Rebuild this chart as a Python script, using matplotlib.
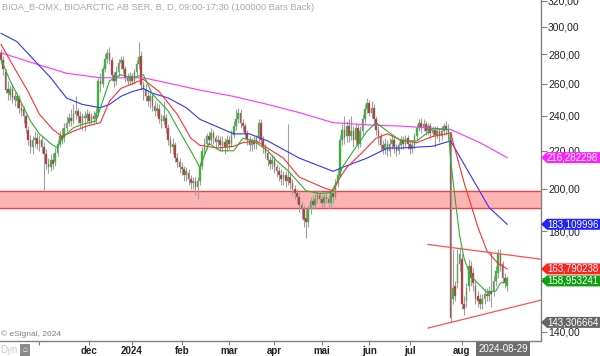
import numpy as np
import pandas as pd
import matplotlib
matplotlib.use('Agg')
import matplotlib.pyplot as plt
from matplotlib.patches import Polygon
from matplotlib.ticker import NullLocator, FixedLocator

plt.rcParams['font.family'] = ['Liberation Sans', 'DejaVu Sans']

# ---- data ----
title = 'BIOA_B-OMX, BIOARCTIC AB SER. B, D, 09:00-17:30 (100000 Bars Back)'
holidays = ['2023-12-25', '2023-12-26', '2024-01-01', '2024-03-29', '2024-04-01',
            '2024-05-01', '2024-05-09', '2024-06-06', '2024-06-21']

opens = [281, 276, 268, 257, 253, 257, 252, 249, 251, 245, 244, 240, 232, 226, 222, 226, 227, 224, 226, 222,
         218, 213, 211, 215, 214, 219, 224, 228, 227, 233, 236, 239, 237, 241, 243, 240, 236, 240, 239, 241,
         237, 240, 238, 242, 262, 260, 270, 277, 281, 276, 266, 262, 268, 274, 276, 270, 264, 262, 265, 262,
         268, 273, 279, 259, 257, 252, 249, 252, 246, 243, 244, 238, 237, 239, 233, 226, 222, 223, 216, 214,
         211, 210, 207, 208, 205, 203, 204, 201, 204, 212, 220, 224, 228, 226, 230, 227, 225, 226, 223, 225,
         222, 226, 224, 229, 234, 238, 242, 236, 234, 230, 226, 223, 225, 224, 227, 236, 226, 222, 219, 215,
         213, 215, 211, 209, 207, 205, 207, 204, 206, 203, 200, 198, 196, 192, 190, 186, 184, 190, 194, 192,
         195, 197, 195, 193, 196, 195, 193, 198, 196, 203, 207, 226, 232, 228, 234, 228, 231, 226, 233, 224,
         231, 238, 244, 248, 242, 245, 238, 232, 228, 223, 221, 224, 220, 224, 226, 222, 220, 223, 226, 224,
         227, 224, 221, 223, 228, 233, 236, 233, 235, 231, 234, 230, 232, 229, 231, 228, 231, 234, 232, 230,
         152, 157, 158, 166, 168, 150, 151, 157, 165, 162, 157, 153, 152, 150, 152, 154, 153, 155, 155, 159,
         162, 170, 166, 160, 157]
highs = [284, 279, 270, 262, 259, 260, 255, 254, 253, 248, 246, 241, 234, 229, 228, 231, 230, 229, 228, 225,
         221, 216, 218, 219, 222, 226, 231, 233, 236, 240, 242, 244, 247, 252, 245, 243, 242, 243, 244, 243,
         242, 243, 245, 264, 267, 272, 280, 284, 285, 278, 268, 272, 277, 279, 279, 272, 267, 268, 267, 270,
         276, 289, 282, 262, 260, 256, 255, 254, 249, 248, 247, 241, 249, 241, 235, 228, 227, 225, 219, 216,
         214, 212, 211, 210, 207, 206, 206, 206, 214, 222, 227, 230, 231, 233, 232, 229, 229, 228, 228, 227,
         229, 228, 232, 237, 244, 245, 244, 238, 236, 232, 228, 227, 228, 229, 238, 238, 228, 224, 221, 217,
         218, 217, 213, 211, 210, 209, 209, 235, 208, 205, 202, 200, 198, 194, 192, 190, 192, 196, 197, 198,
         199, 199, 197, 198, 198, 197, 200, 200, 205, 210, 229, 235, 240, 237, 238, 240, 234, 236, 235, 234,
         241, 247, 251, 250, 249, 247, 240, 234, 230, 226, 227, 226, 227, 229, 228, 224, 225, 228, 228, 229,
         229, 226, 226, 230, 235, 238, 239, 238, 237, 236, 236, 234, 234, 234, 233, 234, 236, 237, 235, 231,
         172, 159, 172, 173, 170, 153, 158, 168, 167, 164, 159, 155, 154, 154, 156, 156, 157, 171, 161, 165,
         172, 172, 167, 162, 161]
lows = [273, 266, 254, 250, 250, 248, 246, 245, 242, 240, 236, 230, 223, 219, 218, 222, 221, 220, 219, 199,
        210, 208, 209, 210, 212, 217, 222, 224, 225, 231, 234, 234, 235, 238, 236, 233, 232, 231, 236, 235,
        235, 236, 236, 240, 255, 258, 268, 274, 273, 262, 258, 259, 265, 270, 267, 261, 259, 259, 259, 260,
        266, 270, 256, 250, 249, 246, 245, 243, 240, 240, 236, 233, 235, 230, 223, 219, 218, 214, 211, 208,
        207, 204, 204, 202, 200, 200, 197, 195, 202, 210, 217, 221, 223, 224, 224, 221, 222, 220, 220, 218,
        220, 221, 222, 227, 232, 236, 233, 231, 227, 223, 220, 220, 221, 221, 225, 224, 219, 216, 212, 210,
        210, 208, 206, 204, 202, 202, 201, 202, 200, 197, 195, 193, 189, 186, 182, 177, 182, 188, 190, 190,
        193, 193, 191, 191, 193, 190, 191, 193, 195, 201, 206, 223, 224, 225, 225, 226, 222, 223, 221, 222,
        229, 236, 242, 240, 239, 235, 229, 224, 220, 218, 218, 217, 217, 221, 219, 217, 218, 221, 221, 222,
        221, 218, 219, 221, 226, 231, 230, 231, 229, 229, 227, 228, 222, 227, 225, 226, 229, 229, 226, 143.3,
        150, 151, 156, 163, 148, 146, 149, 155, 157, 155, 150, 149, 148, 148, 150, 151, 151, 149, 153, 157,
        160, 163, 158, 156, 155]
closes = [276, 270, 256, 254, 257, 251, 250, 252, 245, 243, 240, 233, 226, 222, 226, 227, 224, 226, 222, 218,
          213, 211, 215, 213, 219, 224, 228, 226, 233, 236, 239, 237, 241, 243, 240, 236, 240, 239, 241, 237,
          240, 238, 242, 262, 260, 270, 277, 281, 276, 266, 262, 268, 274, 276, 270, 264, 262, 265, 262, 268,
          273, 278, 259, 257, 252, 249, 252, 246, 243, 245, 238, 237, 240, 233, 226, 222, 224, 216, 214, 211,
          210, 207, 209, 205, 203, 204, 201, 204, 212, 220, 224, 228, 226, 230, 227, 225, 226, 223, 225, 222,
          226, 224, 229, 234, 238, 242, 236, 234, 230, 226, 223, 225, 224, 227, 236, 226, 222, 219, 215, 213,
          215, 211, 209, 207, 205, 207, 204, 206, 203, 200, 198, 196, 192, 190, 185, 184, 190, 194, 192, 195,
          197, 195, 193, 196, 195, 193, 198, 196, 203, 207, 226, 232, 227, 234, 228, 231, 226, 233, 224, 231,
          238, 244, 248, 242, 245, 238, 232, 228, 223, 221, 224, 220, 224, 226, 222, 220, 223, 226, 224, 227,
          224, 221, 223, 228, 233, 236, 233, 235, 231, 234, 230, 232, 229, 231, 228, 231, 234, 232, 230, 145,
          156, 153, 166, 170, 150, 148, 156, 165, 160, 158, 152, 151, 150, 152, 154, 153, 155, 154, 159, 163,
          170, 165, 160, 158, 160]

# moving averages, sampled at bar numbers
ma_fast_idx = [0, 4, 8, 13, 17, 22, 25, 27, 32, 36, 42, 45, 48, 53, 58, 63, 67, 74, 79, 84, 88, 92, 97, 103,
               107, 112, 118, 122, 127, 131, 135, 141, 146, 149, 151, 156, 162, 166, 171, 177, 184, 191, 198,
               199, 201, 203, 205, 207, 209, 211, 215, 219, 221, 224]
ma_fast = [276.6, 262, 251, 237, 229.5, 224, 221.6, 227, 233, 235, 237, 249, 262, 266, 264, 266, 253.5, 243,
           231, 220, 211, 224, 220, 220, 227, 225.5, 220, 214.6, 209.3, 204.2, 199.1, 197.7, 198.2, 204.2, 211,
           220, 231, 236, 231, 225.5, 225.5, 232.4, 232, 215, 195, 178, 168, 163, 160, 158.1, 154.5, 155, 158,
           158.95]
ma_mid_idx = [0, 5, 12, 17, 23, 27, 32, 38, 44, 48, 53, 58, 63, 70, 78, 84, 88, 96, 103, 107, 113, 118, 125,
              132, 138, 143, 147, 150, 153, 159, 166, 171, 177, 184, 191, 199, 205, 211, 215, 220, 224]
ma_mid = [287, 273, 255, 241, 232, 228, 231, 234, 236, 249, 257, 260, 263, 255, 241, 227, 223, 221.5, 222.5,
          224.5, 225.5, 221.5, 216, 206, 203, 200.5, 199, 205.7, 211, 218, 227, 229.5, 226, 224.5, 228, 230,
          203, 182, 171.5, 166, 163.79]
ma_50_idx = [0, 7, 14, 22, 29, 36, 44, 48, 53, 58, 63, 67, 74, 82, 88, 103, 110, 118, 132, 147, 151, 162,
             171, 177, 191, 199, 216, 224]
ma_50 = [295, 289, 277, 264, 251, 247, 245, 247, 252, 255, 257, 254, 251, 245, 238, 229.5, 229.5, 225.5, 216,
         209, 211, 216, 221.5, 221.5, 222.5, 225.5, 191, 183.11]
ma_200_idx = [0, 14, 29, 44, 63, 74, 88, 103, 118, 132, 147, 165, 177, 199, 212, 224]
ma_200 = [281, 274, 267, 264, 264, 260.5, 256, 252, 247, 242, 236, 234.5, 234, 232, 224.5, 216.28]

band_low, band_high = 190.6, 198.9
trend_upper = ([189, 239], [174.1, 167.8])
trend_lower = ([189, 239], [141.3, 151.5])

last_values = [(216.282298, '#ff22ff'), (183.109996, '#2222ff'), (163.790238, '#ff2222'),
               (158.953241, '#0f9f0f'), (143.306664, '#666666')]
month_names = {11: '', 12: 'dec', 1: '2024', 2: 'feb', 3: 'mar', 4: 'apr', 5: 'mai', 6: 'jun', 7: 'jul', 8: 'aug'}

# ---- figure ----
W, H = 600, 356
fig = plt.figure(figsize=(W / 100, H / 100), dpi=100)
fig.patch.set_facecolor('white')
ax = fig.add_axes([0, 15 / H, 541 / W, 341 / H])

n = len(closes)
dates = pd.bdate_range('2023-10-09', periods=n, freq='C', holidays=holidays)
x = np.arange(n)
o = np.array(opens, float)
c = np.array(closes, float)
hi = np.array(highs, float)
lo = np.array(lows, float)

ax.axhspan(band_low, band_high, facecolor='#ffb4b4', edgecolor='none', zorder=0)
ax.axhline(band_low, color='#ff3b3b', lw=1.0, zorder=0.5)
ax.axhline(band_high, color='#ff3b3b', lw=1.0, zorder=0.5)

# candles
ax.vlines(x, lo, hi, color='#a0a0a0', lw=0.8, zorder=2)
up = c >= o
body_col = np.where(up, '#22c022', '#c02a2a')
bottom = np.minimum(o, c)
height = np.maximum(np.abs(c - o), 0.4)
ax.bar(x, height, bottom=bottom, width=0.72, color=body_col, edgecolor='#909090', linewidth=0.3, zorder=3)

ax.plot(ma_200_idx, ma_200, color='#ff33ff', lw=0.8, zorder=4)
ax.plot(ma_50_idx, ma_50, color='#3333ff', lw=0.8, zorder=4)
ax.plot(ma_mid_idx, ma_mid, color='#ff3030', lw=0.8, zorder=4)
ax.plot(ma_fast_idx, ma_fast, color='#2cb02c', lw=0.8, zorder=4)

ax.plot(trend_upper[0], trend_upper[1], color='#ff5050', lw=0.9, zorder=4)
ax.plot(trend_lower[0], trend_lower[1], color='#ff5050', lw=0.9, zorder=4)

ax.set_yscale('log')
ax.set_ylim(136.8, 320.6)
ax.set_xlim(-0.45, 239)
ax.yaxis.tick_right()
yt = list(range(140, 340, 20))
ax.yaxis.set_major_locator(FixedLocator(yt))
ax.yaxis.set_minor_locator(NullLocator())
# 160 is fully hidden behind the price tags in the picture
ax.set_yticklabels(['' if v == 160 else '%d,00' % v for v in yt])
ax.tick_params(axis='y', direction='out', length=4, width=0.8, color='#808080',
               labelsize=7.5, pad=1, labelcolor='#222222')

# month ticks
tick_pos, tick_lab = [], []
for i in range(1, n):
    if dates[i].month != dates[i - 1].month:
        tick_pos.append(i)
        tick_lab.append(month_names.get(dates[i].month, ''))
ax.set_xticks(tick_pos)
ax.set_xticklabels(tick_lab)
ax.tick_params(axis='x', direction='out', length=3, width=0.8, color='#808080',
               labelsize=7, pad=0.5, labelcolor='#222222')
for t in ax.get_xticklabels():
    t.set_fontweight('bold')

for s in ['top', 'left']:
    ax.spines[s].set_visible(False)
for s in ['right', 'bottom']:
    ax.spines[s].set_color('#808080')
    ax.spines[s].set_linewidth(1.0)

# price tags on the right
fig.canvas.draw()
for val, col in last_values:
    yc = ax.transData.transform((0, val))[1] / H
    x0 = 541 / W
    hh = 5.5 / H
    poly = Polygon([(x0, yc), (x0 + 6 / W, yc + hh), (1.0, yc + hh), (1.0, yc - hh), (x0 + 6 / W, yc - hh)],
                   closed=True, transform=fig.transFigure, facecolor=col, edgecolor='none', zorder=10)
    fig.patches.append(poly)
    fig.text(x0 + 6 / W, yc, ('%.6f' % val).replace('.', ','), color='white', fontsize=7,
             va='center', ha='left', zorder=11)

fig.text(2 / W, 1 - 8 / H, title, color='#a8a8a8', fontsize=6.7, va='center', ha='left')
fig.text(1 / W, 1 - 334 / H, '\u00a9 eSignal, 2024', color='#808080', fontsize=6, va='center', ha='left')
fig.text(0 / W, 1 - 350 / H, 'Dyn', color='#c8c8c8', fontsize=7, va='center', ha='left')
fig.text(25 / W, 1 - 350 / H, '\u2302', color='white', fontsize=6, va='center', ha='center',
         bbox=dict(boxstyle='square,pad=0.25', fc='#8a8a8a', ec='none'))
fig.text(503 / W, 1 - 349 / H, dates[-1].strftime('%Y-%m-%d'), color='white', fontsize=7, va='center',
         ha='center', bbox=dict(boxstyle='square,pad=0.2', fc='#6e6e6e', ec='none'))

fig.savefig('out.png', dpi=100)
